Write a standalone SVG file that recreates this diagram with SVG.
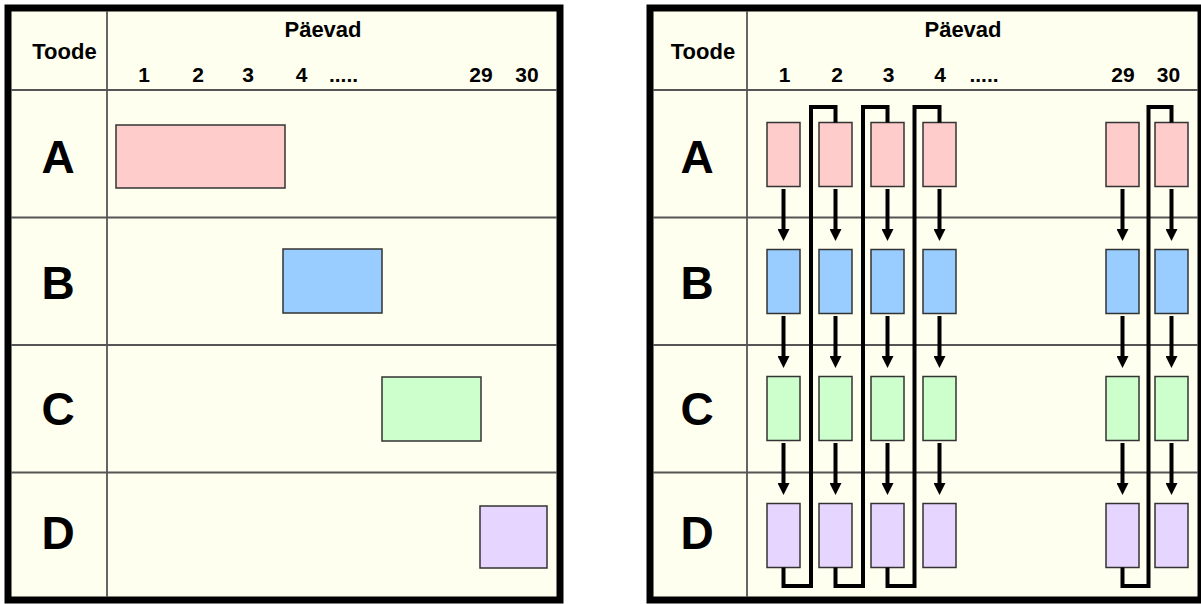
<svg xmlns="http://www.w3.org/2000/svg" width="1201" height="604" viewBox="0 0 1201 604">
<style>
.frame{fill:#FFFFF0;stroke:#000;stroke-width:7}
.grid{stroke:#555;stroke-width:1.8;fill:none}
.t{font-family:"Liberation Sans",Arial,sans-serif;font-weight:bold;fill:#000;text-anchor:middle}
.hd{font-size:22px}
.num{font-size:21px}
.row{font-size:46px}
.a{fill:#FFCCCC;stroke:#333;stroke-width:1.5}
.b{fill:#99CCFF;stroke:#333;stroke-width:1.5}
.c{fill:#CCFFCC;stroke:#333;stroke-width:1.5}
.d{fill:#E6D5FF;stroke:#333;stroke-width:1.5}
.arr{stroke:#000;stroke-width:4;fill:none;marker-end:url(#ah)}
.loop{stroke:#000;stroke-width:4;fill:none}
</style>
<defs>
<marker id="ah" markerUnits="userSpaceOnUse" markerWidth="12" markerHeight="12" refX="0.5" refY="6" orient="auto">
<path d="M0,0 L12,6 L0,12 z" fill="#000"/>
</marker>
</defs>
<rect width="1201" height="604" fill="#fff"/>

<!-- Left panel -->
<g id="left-table">
<rect class="frame" x="8" y="8" width="552" height="592"/>
<line class="grid" x1="107" y1="11" x2="107" y2="597"/>
<line class="grid" x1="11" y1="90" x2="557" y2="90"/>
<line class="grid" x1="11" y1="217.5" x2="557" y2="217.5"/>
<line class="grid" x1="11" y1="345" x2="557" y2="345"/>
<line class="grid" x1="11" y1="472.5" x2="557" y2="472.5"/>
<text class="t hd" x="64.5" y="59">Toode</text>
<text class="t hd" x="323" y="37">Päevad</text>
<text class="t num" x="144" y="82">1</text>
<text class="t num" x="198" y="82">2</text>
<text class="t num" x="248" y="82">3</text>
<text class="t num" x="301.5" y="82">4</text>
<text class="t num" x="343.5" y="82">.....</text>
<text class="t num" x="481" y="82">29</text>
<text class="t num" x="527" y="82">30</text>
<text class="t row" x="58" y="173">A</text>
<text class="t row" x="58" y="299">B</text>
<text class="t row" x="58" y="425">C</text>
<text class="t row" x="58" y="549">D</text>
</g>
<g id="L-A"><rect class="a" x="116" y="125" width="169" height="63"/></g>
<g id="L-B"><rect class="b" x="283" y="249" width="99" height="64"/></g>
<g id="L-C"><rect class="c" x="382" y="377" width="99" height="64"/></g>
<g id="L-D"><rect class="d" x="480" y="506" width="67" height="62"/></g>

<!-- Right panel -->
<g id="right-table">
<rect class="frame" x="650" y="8" width="551" height="592"/>
<line class="grid" x1="747" y1="11" x2="747" y2="597"/>
<line class="grid" x1="653" y1="90" x2="1198" y2="90"/>
<line class="grid" x1="653" y1="217.5" x2="1198" y2="217.5"/>
<line class="grid" x1="653" y1="345" x2="1198" y2="345"/>
<line class="grid" x1="653" y1="472.5" x2="1198" y2="472.5"/>
<text class="t hd" x="703" y="59">Toode</text>
<text class="t hd" x="963" y="37">Päevad</text>
<text class="t num" x="784.5" y="82">1</text>
<text class="t num" x="837" y="82">2</text>
<text class="t num" x="888.5" y="82">3</text>
<text class="t num" x="940" y="82">4</text>
<text class="t num" x="984" y="82">.....</text>
<text class="t num" x="1123" y="82">29</text>
<text class="t num" x="1168.5" y="82">30</text>
<text class="t row" x="697" y="173">A</text>
<text class="t row" x="697" y="299">B</text>
<text class="t row" x="697" y="425">C</text>
<text class="t row" x="697" y="549">D</text>
</g>

<g id="R-A1"><rect class="a" x="767" y="122.5" width="33" height="64"/></g>
<g id="R-A2"><rect class="a" x="819" y="122.5" width="33" height="64"/></g>
<g id="R-A3"><rect class="a" x="871" y="122.5" width="33" height="64"/></g>
<g id="R-A4"><rect class="a" x="923" y="122.5" width="33" height="64"/></g>
<g id="R-A29"><rect class="a" x="1106" y="122.5" width="33" height="64"/></g>
<g id="R-A30"><rect class="a" x="1155" y="122.5" width="33" height="64"/></g>

<g id="R-B1"><rect class="b" x="767" y="249.5" width="33" height="64"/></g>
<g id="R-B2"><rect class="b" x="819" y="249.5" width="33" height="64"/></g>
<g id="R-B3"><rect class="b" x="871" y="249.5" width="33" height="64"/></g>
<g id="R-B4"><rect class="b" x="923" y="249.5" width="33" height="64"/></g>
<g id="R-B29"><rect class="b" x="1106" y="249.5" width="33" height="64"/></g>
<g id="R-B30"><rect class="b" x="1155" y="249.5" width="33" height="64"/></g>

<g id="R-C1"><rect class="c" x="767" y="376.5" width="33" height="64"/></g>
<g id="R-C2"><rect class="c" x="819" y="376.5" width="33" height="64"/></g>
<g id="R-C3"><rect class="c" x="871" y="376.5" width="33" height="64"/></g>
<g id="R-C4"><rect class="c" x="923" y="376.5" width="33" height="64"/></g>
<g id="R-C29"><rect class="c" x="1106" y="376.5" width="33" height="64"/></g>
<g id="R-C30"><rect class="c" x="1155" y="376.5" width="33" height="64"/></g>

<g id="R-D1"><rect class="d" x="767" y="503.5" width="33" height="64"/></g>
<g id="R-D2"><rect class="d" x="819" y="503.5" width="33" height="64"/></g>
<g id="R-D3"><rect class="d" x="871" y="503.5" width="33" height="64"/></g>
<g id="R-D4"><rect class="d" x="923" y="503.5" width="33" height="64"/></g>
<g id="R-D29"><rect class="d" x="1106" y="503.5" width="33" height="64"/></g>
<g id="R-D30"><rect class="d" x="1155" y="503.5" width="33" height="64"/></g>

<g id="connectors">
<!-- A to B -->
<path class="arr" d="M783.5,189 V229.5"/>
<path class="arr" d="M835.5,189 V229.5"/>
<path class="arr" d="M887.5,189 V229.5"/>
<path class="arr" d="M939.5,189 V229.5"/>
<path class="arr" d="M1122.5,189 V229.5"/>
<path class="arr" d="M1171.5,189 V229.5"/>
<!-- B to C -->
<path class="arr" d="M783.5,316 V356.5"/>
<path class="arr" d="M835.5,316 V356.5"/>
<path class="arr" d="M887.5,316 V356.5"/>
<path class="arr" d="M939.5,316 V356.5"/>
<path class="arr" d="M1122.5,316 V356.5"/>
<path class="arr" d="M1171.5,316 V356.5"/>
<!-- C to D -->
<path class="arr" d="M783.5,443 V483.5"/>
<path class="arr" d="M835.5,443 V483.5"/>
<path class="arr" d="M887.5,443 V483.5"/>
<path class="arr" d="M939.5,443 V483.5"/>
<path class="arr" d="M1122.5,443 V483.5"/>
<path class="arr" d="M1171.5,443 V483.5"/>
<!-- loops D(i) to A(i+1) -->
<path class="loop" d="M783.5,567.5 V586 H811 V107 H835.5 V122.5"/>
<path class="loop" d="M835.5,567.5 V586 H863 V107 H887.5 V122.5"/>
<path class="loop" d="M887.5,567.5 V586 H914.5 V107 H939.5 V122.5"/>
<path class="loop" d="M1122.5,567.5 V586 H1148.5 V107 H1171.5 V122.5"/>
</g>
</svg>
